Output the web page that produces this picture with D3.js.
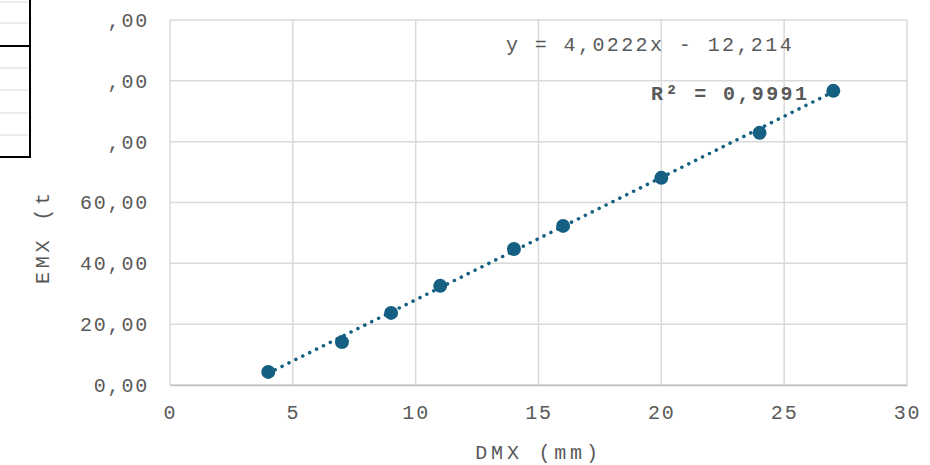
<!DOCTYPE html>
<html>
<head>
<meta charset="utf-8">
<script src="https://cdn.jsdelivr.net/npm/d3@7"></script>
<style>
  html, body { margin: 0; padding: 0; background: #fff; }
  svg { display: block; }
  text { font-family: "Courier New", "Liberation Mono", monospace; fill: #595959; }
</style>
</head>
<body>
<svg id="chart" width="930" height="465"></svg>
<script>
// ---- data ----
const xValues = [4, 7, 9, 11, 14, 16, 20, 24, 27];
const yValues = [4.3, 14.1, 23.7, 32.6, 44.7, 52.3, 68.1, 82.9, 96.7];
const xTicks = [0, 5, 10, 15, 20, 25, 30];
const yTicks = [0, 20, 40, 60, 80, 100, 120];
const yTickLabels = ["0,00", "20,00", "40,00", "60,00", ",00", ",00", ",00"];
const xTitle = "DMX (mm)";
const yTitle = "EMX (t";
const equationText = "y = 4,0222x - 12,214";
const r2Text = "R² = 0,9991";
const trendSlope = 4.0222;
const trendIntercept = -12.214;
const trendRange = [4, 27];

// ---- layout ----
const svg = d3.select("#chart");
const plot = { left: 170, right: 907, top: 20, bottom: 385 };
const x = d3.scaleLinear().domain([0, 30]).range([plot.left, plot.right]);
const y = d3.scaleLinear().domain([0, 120]).range([plot.bottom, plot.top]);
const color = "#156082";
const grid = "#d9d9d9";

// gridlines
svg.append("g").selectAll("line").data(yTicks).join("line")
  .attr("x1", plot.left).attr("x2", plot.right)
  .attr("y1", d => y(d)).attr("y2", d => y(d))
  .attr("stroke", grid).attr("stroke-width", 1.5);
svg.append("g").selectAll("line").data(xTicks).join("line")
  .attr("y1", plot.top).attr("y2", plot.bottom)
  .attr("x1", d => x(d)).attr("x2", d => x(d))
  .attr("stroke", grid).attr("stroke-width", 1.5);

// axes (labels only)
const xAxis = d3.axisBottom(x).tickValues(xTicks).tickSize(0).tickPadding(20)
  .tickFormat(d => String(d));
const gx = svg.append("g").attr("transform", `translate(0,${plot.bottom})`).call(xAxis);
gx.select(".domain").attr("stroke", "#bfbfbf").attr("stroke-width", 1.5);
gx.selectAll("text").style("font-size", "20px").style("letter-spacing", "1.8px").attr("fill", "#595959");

const yAxis = d3.axisLeft(y).tickValues(yTicks).tickSize(0).tickPadding(21)
  .tickFormat((d, i) => yTickLabels[i]);
const gy = svg.append("g").attr("transform", `translate(${plot.left},0)`).call(yAxis);
gy.select(".domain").remove();
gy.selectAll("text").style("font-size", "20px").style("letter-spacing", "1.8px").attr("fill", "#595959");

// axis titles
svg.append("text").attr("x", (plot.left + plot.right) / 2).attr("y", 459)
  .attr("text-anchor", "middle").style("font-size", "20px").style("letter-spacing", "3.8px")
  .text(xTitle);
svg.append("text").attr("transform", `translate(49,284) rotate(-90)`)
  .attr("text-anchor", "start").style("font-size", "20px").style("letter-spacing", "3.8px")
  .text(yTitle);

// trendline
svg.append("line")
  .attr("x1", x(trendRange[0])).attr("y1", y(trendSlope * trendRange[0] + trendIntercept))
  .attr("x2", x(trendRange[1])).attr("y2", y(trendSlope * trendRange[1] + trendIntercept))
  .attr("stroke", color).attr("stroke-width", 3.5)
  .attr("stroke-linecap", "round").attr("stroke-dasharray", "0.1 7.6");

// points
svg.append("g").selectAll("circle").data(xValues).join("circle")
  .attr("cx", d => x(d)).attr("cy", (d, i) => y(yValues[i]))
  .attr("r", 7).attr("fill", color);

// equation labels
svg.append("text").attr("x", 506).attr("y", 51)
  .style("font-size", "20px").style("letter-spacing", "2.4px").text(equationText);
svg.append("text").attr("x", 651).attr("y", 100)
  .style("font-size", "20px").style("letter-spacing", "2.4px").style("font-weight", "bold")
  .text(r2Text);

// spreadsheet cell fragment at top-left
const grayRows = [2, 23, 68, 90, 113, 135];
svg.append("g").selectAll("line").data(grayRows).join("line")
  .attr("x1", 0).attr("x2", 28).attr("y1", d => d).attr("y2", d => d)
  .attr("stroke", "#ececec").attr("stroke-width", 2);
const blackRows = [46, 157];
svg.append("g").selectAll("line").data(blackRows).join("line")
  .attr("x1", 0).attr("x2", 31).attr("y1", d => d).attr("y2", d => d)
  .attr("stroke", "#000").attr("stroke-width", 2);
svg.append("line").attr("x1", 30).attr("x2", 30).attr("y1", 0).attr("y2", 158)
  .attr("stroke", "#000").attr("stroke-width", 2);
</script>
</body>
</html>
